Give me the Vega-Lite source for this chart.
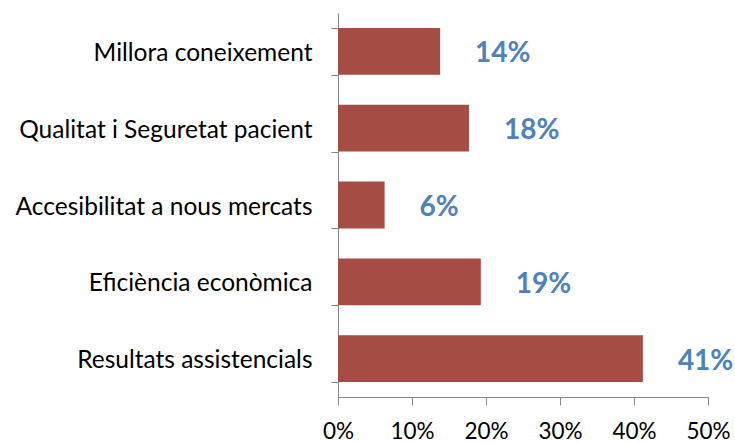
{
  "$schema": "https://vega.github.io/schema/vega-lite/v6.json",
  "autosize": "none",
  "width": 370,
  "height": 384,
  "padding": {"left": 338, "top": 13, "right": 27, "bottom": 46},
  "background": "white",
  "config": {"view": {"stroke": null}, "font": "Lato"},
  "data": {
    "values": [
      {"category": "Millora coneixement", "value": 0.138, "label": "14%"},
      {"category": "Qualitat i Seguretat pacient", "value": 0.177, "label": "18%"},
      {"category": "Accesibilitat a nous mercats", "value": 0.063, "label": "6%"},
      {"category": "Eficiència econòmica", "value": 0.193, "label": "19%"},
      {"category": "Resultats assistencials", "value": 0.412, "label": "41%"}
    ]
  },
  "encoding": {
    "y": {
      "field": "category",
      "type": "nominal",
      "sort": null,
      "scale": {"paddingInner": 0.39, "paddingOuter": 0.195},
      "axis": {
        "title": null,
        "tickBand": "extent",
        "tickSize": 7,
        "tickColor": "#878787",
        "domainColor": "#878787",
        "labelFont": "Lato",
        "labelFontSize": 24.5,
        "labelColor": "#000000",
        "labelPadding": 19,
        "labelOffset": 2,
        "labelLimit": 400
      }
    },
    "x": {
      "field": "value",
      "type": "quantitative",
      "scale": {"domain": [0, 0.5], "nice": false},
      "axis": {
        "title": null,
        "format": ".0%",
        "values": [0, 0.1, 0.2, 0.3, 0.4, 0.5],
        "grid": false,
        "tickSize": 8,
        "tickColor": "#878787",
        "domainColor": "#878787",
        "labelFont": "Lato",
        "labelFontSize": 22.5,
        "labelColor": "#000000",
        "labelPadding": 15,
        "labelFlush": false
      }
    }
  },
  "layer": [
    {"mark": {"type": "bar", "color": "#A54C44"}},
    {
      "mark": {"type": "text", "align": "left", "baseline": "middle", "dx": 35, "dy": 3, "fontSize": 28, "fontWeight": "bold", "font": "Lato", "color": "#4F81BD"},
      "encoding": {"text": {"field": "label"}}
    }
  ]
}
